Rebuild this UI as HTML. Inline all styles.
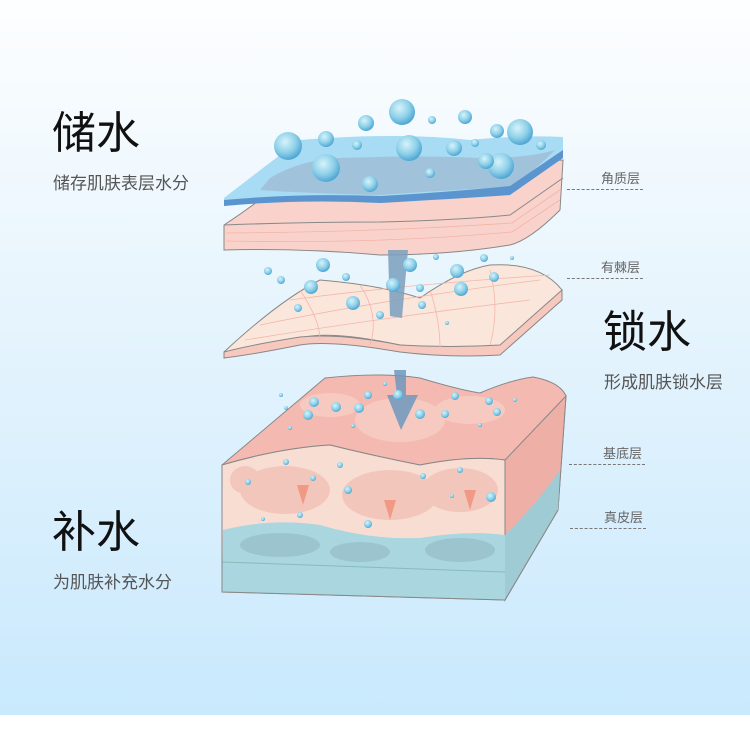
<!DOCTYPE html>
<html><head><meta charset="utf-8"><style>
html,body{margin:0;padding:0}
body{width:750px;height:755px;position:relative;overflow:hidden;background:#fff;font-family:"Liberation Sans","Noto Sans CJK SC",sans-serif}
.bg{position:absolute;left:0;top:0;width:750px;height:715px;background:linear-gradient(#fdfeff 0%,#e8f5fd 40%,#c9e9fd 100%)}
.t{position:absolute;white-space:nowrap}
.big{font-size:44px;color:#111;line-height:1}
.sub{font-size:17px;color:#555;line-height:1}
.lb{font-size:13px;color:#666;line-height:1}
.dl{position:absolute;border-top:1px dashed #777;width:76px}
</style></head><body>
<div class="bg"></div>
<svg style="position:absolute;left:0;top:0" width="750" height="755" viewBox="0 0 750 755">
<defs>
<radialGradient id="bub" cx="40%" cy="35%" r="65%"><stop offset="0" stop-color="#d6f3fb"/><stop offset="0.6" stop-color="#8ed0e8"/><stop offset="1" stop-color="#4fa7d4"/></radialGradient>
</defs>
<!-- block -->
<path d="M222,465 L325,378 Q380,372 420,378 Q460,390 480,393 Q510,380 533,377 Q560,382 566,396 L558,510 L505,600 L505,460 Q470,455 420,465 Q370,455 330,445 Q280,448 222,465Z" fill="#f4b9b0" stroke="#888" stroke-width="1"/>
<g fill="#f8cfc6" opacity="0.8"><ellipse cx="400" cy="420" rx="45" ry="22"/><ellipse cx="470" cy="410" rx="35" ry="14"/><ellipse cx="330" cy="405" rx="30" ry="12"/></g>
<path d="M222,465 Q280,448 330,445 Q370,455 420,465 Q470,455 505,460 L505,600 L222,592Z" fill="#f8ddd3" stroke="#888"/>
<path d="M505,460 L566,396 L558,510 L505,600Z" fill="#eeb0a6" stroke="#888"/>
<g fill="#f3c2b8" opacity="0.85"><ellipse cx="285" cy="490" rx="45" ry="24"/><ellipse cx="390" cy="495" rx="48" ry="25"/><ellipse cx="460" cy="490" rx="38" ry="22"/><ellipse cx="245" cy="480" rx="15" ry="14"/></g>
<path d="M223,530 Q270,518 320,525 Q370,540 420,538 Q470,530 505,535 L505,600 L222,592Z" fill="#a9d6df"/>
<g fill="#9cc4cf"><ellipse cx="280" cy="545" rx="40" ry="12"/><ellipse cx="360" cy="552" rx="30" ry="10"/><ellipse cx="460" cy="550" rx="35" ry="12"/></g>
<path d="M505,535 Q540,500 560,470 L558,510 L505,600Z" fill="#9fcbd5"/>
<path d="M222,562 L505,572" stroke="#8bb" stroke-width="1"/>
<path d="M222,465 L222,592 L505,600 L558,510" fill="none" stroke="#888"/>
<g fill="#f09a85"><path d="M297,485 L309,485 L303,505Z"/><path d="M384,500 L396,500 L390,520Z"/><path d="M464,490 L476,490 L470,510Z"/></g>
<!-- spinous layer -->
<path d="M224,352 Q280,300 320,280 Q380,285 420,298 Q460,270 490,265 Q540,262 562,290 L562,300 L500,352 Q450,350 400,345 Q330,330 300,338 Q250,352 224,358Z" fill="#fbe6dc" stroke="#888"/>
<path d="M224,352 Q250,345 300,337 Q340,333 400,345 Q450,348 500,345 L562,290 L562,300 L500,355 Q450,358 400,352 Q330,340 300,345 Q250,355 224,358Z" fill="#f6c8be" stroke="#888"/>
<g stroke="#f3b7ab" stroke-width="0.8" fill="none"><path d="M260,325 Q380,300 540,280"/><path d="M245,340 Q380,318 530,300"/><path d="M290,300 Q400,285 550,275"/><path d="M300,290 Q320,320 320,340"/><path d="M360,285 Q380,315 370,345"/><path d="M430,290 Q440,320 440,348"/><path d="M490,270 Q500,310 490,345"/></g>
<!-- stratum corneum -->
<path d="M224,225 Q270,195 300,165 Q400,160 470,165 L563,160 L560,210 Q530,240 510,245 Q450,255 380,255 Q300,248 224,250Z" fill="#f9d3cb" stroke="#888"/>
<path d="M224,225 Q300,222 380,222 Q460,220 510,215 L563,178" fill="none" stroke="#888"/>
<g stroke="#f3b3a8" fill="none" stroke-width="0.8"><path d="M226,233 Q380,232 512,223 L560,190"/><path d="M226,241 Q380,244 512,232 L560,200"/></g>
<!-- water film -->
<path d="M224,198 Q260,170 300,140 Q400,132 470,140 Q520,135 563,137 L563,150 Q540,170 510,188 Q450,192 380,197 Q300,195 224,205Z" fill="#a8dbf4"/>
<path d="M270,178 Q300,160 340,158 Q420,155 480,158 Q530,158 555,150 Q530,175 510,187 Q450,190 380,195 Q300,193 260,190Z" fill="#9cb8cf" opacity="0.7"/>
<path d="M224,200 Q300,193 380,196 Q450,192 510,186 L563,150 L563,158 L510,195 Q450,199 380,203 Q300,199 224,206Z" fill="#5a95cf"/>
<!-- arrow -->
<path d="M388,250 L408,250 L402,318 L390,316Z" fill="#7a9fbd" opacity="0.85"/>
<path d="M394,370 L406,370 L406,395 L418,395 L401,430 L387,395 L397,395Z" fill="#6f98bd" opacity="0.85"/>
<!-- bubbles -->
<g fill="url(#bub)">
<circle cx="288" cy="146" r="14"/><circle cx="326" cy="168" r="14"/><circle cx="326" cy="139" r="8"/><circle cx="402" cy="112" r="13"/><circle cx="366" cy="123" r="8"/><circle cx="409" cy="148" r="13"/><circle cx="454" cy="148" r="8"/><circle cx="465" cy="117" r="7"/><circle cx="497" cy="131" r="7"/><circle cx="520" cy="132" r="13"/><circle cx="501" cy="166" r="13"/><circle cx="486" cy="161" r="8"/><circle cx="370" cy="184" r="8"/><circle cx="430" cy="173" r="5"/><circle cx="357" cy="145" r="5"/><circle cx="541" cy="145" r="5"/><circle cx="475" cy="143" r="4"/><circle cx="432" cy="120" r="4"/>
<circle cx="323" cy="265" r="7"/><circle cx="410" cy="265" r="7"/><circle cx="457" cy="271" r="7"/><circle cx="311" cy="287" r="7"/><circle cx="393" cy="285" r="7"/><circle cx="461" cy="289" r="7"/><circle cx="353" cy="303" r="7"/><circle cx="268" cy="271" r="4"/><circle cx="281" cy="280" r="4"/><circle cx="298" cy="308" r="4"/><circle cx="380" cy="315" r="4"/><circle cx="422" cy="305" r="4"/><circle cx="436" cy="257" r="3"/><circle cx="484" cy="258" r="4"/><circle cx="494" cy="277" r="5"/><circle cx="346" cy="277" r="4"/><circle cx="420" cy="288" r="4"/><circle cx="447" cy="323" r="2"/><circle cx="512" cy="258" r="2"/>
<circle cx="314" cy="402" r="5"/><circle cx="308" cy="415" r="5"/><circle cx="336" cy="407" r="5"/><circle cx="359" cy="408" r="5"/><circle cx="368" cy="395" r="4"/><circle cx="398" cy="395" r="5"/><circle cx="420" cy="414" r="5"/><circle cx="445" cy="414" r="4"/><circle cx="455" cy="396" r="4"/><circle cx="497" cy="412" r="4"/><circle cx="489" cy="401" r="4"/><circle cx="286" cy="408" r="2"/><circle cx="281" cy="395" r="2"/><circle cx="290" cy="428" r="2"/><circle cx="480" cy="425" r="2"/><circle cx="515" cy="400" r="2"/><circle cx="353" cy="426" r="2"/><circle cx="385" cy="384" r="2"/>
<circle cx="286" cy="462" r="3"/><circle cx="340" cy="465" r="3"/><circle cx="313" cy="478" r="3"/><circle cx="348" cy="490" r="4"/><circle cx="248" cy="482" r="3"/><circle cx="423" cy="476" r="3"/><circle cx="460" cy="470" r="3"/><circle cx="491" cy="497" r="5"/><circle cx="263" cy="519" r="2"/><circle cx="300" cy="515" r="3"/><circle cx="368" cy="524" r="4"/><circle cx="452" cy="496" r="2"/>
</g>
</svg>
<div class="t big" style="left:52px;top:112px">储水</div>
<div class="t sub" style="left:53px;top:175px">储存肌肤表层水分</div>
<div class="t lb" style="left:601px;top:172px">角质层</div><div class="dl" style="left:567px;top:189px"></div>
<div class="t lb" style="left:601px;top:261px">有棘层</div><div class="dl" style="left:567px;top:278px"></div>
<div class="t big" style="left:603px;top:311px">锁水</div>
<div class="t sub" style="left:604px;top:374px">形成肌肤锁水层</div>
<div class="t lb" style="left:603px;top:447px">基底层</div><div class="dl" style="left:569px;top:464px"></div>
<div class="t lb" style="left:604px;top:511px">真皮层</div><div class="dl" style="left:570px;top:528px"></div>
<div class="t big" style="left:52px;top:511px">补水</div>
<div class="t sub" style="left:53px;top:574px">为肌肤补充水分</div>
</body></html>
